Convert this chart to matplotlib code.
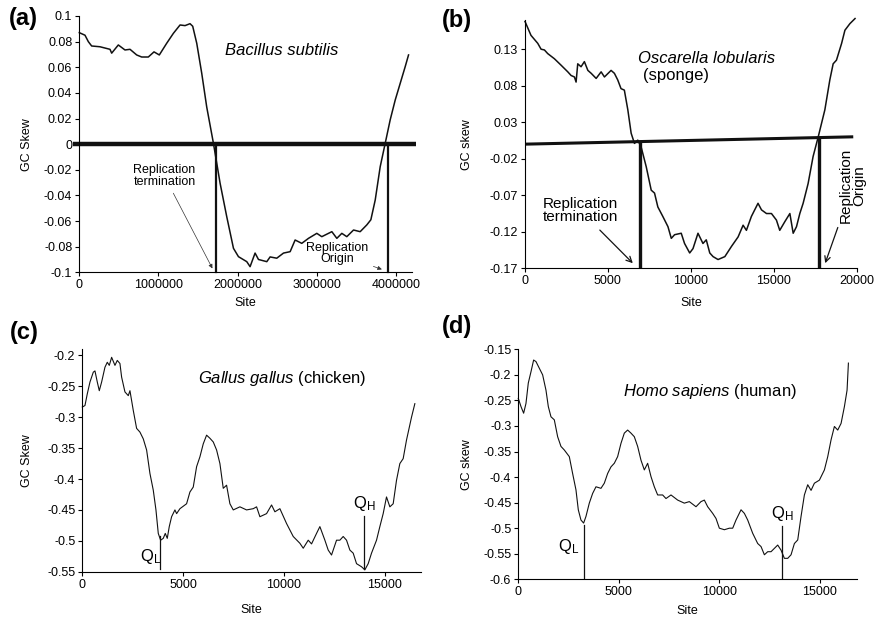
import numpy as np
import matplotlib
matplotlib.use("Agg")
import matplotlib.pyplot as plt

plt.rcParams['font.family'] = ['Liberation Sans', 'DejaVu Sans']
plt.rcParams['mathtext.fontset'] = 'custom'
plt.rcParams['mathtext.rm'] = 'Liberation Sans'
plt.rcParams['mathtext.it'] = 'Liberation Sans:italic'
plt.rcParams['font.size'] = 9

# (a) Bacillus subtilis
a_site = [0, 72e3, 114e3, 156e3, 261e3, 388e3, 409e3, 493e3, 577e3, 641e3, 725e3, 788e3,
          872e3, 944e3, 1011e3, 1104e3, 1189e3, 1273e3, 1336e3, 1399e3, 1433e3, 1484e3,
          1547e3, 1610e3, 1695e3, 1779e3, 1863e3, 1948e3, 2011e3, 2116e3, 2158e3, 2221e3,
          2264e3, 2369e3, 2411e3, 2495e3, 2580e3, 2664e3, 2727e3, 2811e3, 2896e3, 3001e3,
          3064e3, 3191e3, 3254e3, 3317e3, 3380e3, 3465e3, 3549e3, 3633e3, 3684e3, 3739e3,
          3802e3, 3865e3, 3928e3, 3992e3, 4055e3, 4118e3, 4160e3]
a_skew = [0.087, 0.085, 0.080, 0.0766, 0.076, 0.074, 0.071, 0.0774, 0.0735, 0.074, 0.0696,
          0.068, 0.068, 0.072, 0.0696, 0.0787, 0.0865, 0.093, 0.0925, 0.094, 0.092, 0.0787,
          0.0553, 0.029, 0.0006, -0.0305, -0.0566, -0.0813, -0.0878, -0.0917, -0.0956, -0.085,
          -0.090, -0.0917, -0.088, -0.089, -0.085, -0.0839, -0.0748, -0.0774, -0.0735, -0.0696,
          -0.0722, -0.0683, -0.0735, -0.0696, -0.0722, -0.067, -0.0683, -0.063, -0.059, -0.0436,
          -0.0176, 0.0006, 0.0189, 0.0345, 0.0475, 0.0605, 0.0696]
a_marks = [1728e3, 3899e3]

# (b) Oscarella lobularis (site in thousands)
b_site = [0, 0.36, 0.77, 0.97, 1.17, 1.37, 1.77, 2.18, 2.58, 2.78, 2.98, 3.08, 3.18, 3.38,
          3.58, 3.79, 3.99, 4.29, 4.59, 4.79, 5.19, 5.39, 5.59, 5.79, 5.99, 6.20, 6.40,
          6.60, 6.80, 7.00, 7.31, 7.61, 7.81, 8.01, 8.31, 8.62, 8.82, 9.02, 9.42, 9.62,
          9.93, 10.13, 10.43, 10.73, 10.93, 11.14, 11.34, 11.64, 12.05, 12.45, 12.85,
          13.15, 13.35, 13.65, 14.05, 14.26, 14.56, 14.86, 15.16, 15.36, 15.67, 15.97,
          16.17, 16.37, 16.57, 16.77, 17.07, 17.37, 17.68, 18.08, 18.38, 18.58, 18.78,
          19.09, 19.29, 19.59, 19.90]
b_skew = [0.168, 0.149, 0.138, 0.130, 0.129, 0.124, 0.117, 0.108, 0.099, 0.094, 0.092, 0.085,
          0.110, 0.106, 0.113, 0.101, 0.097, 0.090, 0.099, 0.092, 0.101, 0.097, 0.088, 0.076,
          0.074, 0.047, 0.015, 0.001, 0.0055, -0.0036, -0.031, -0.063, -0.067, -0.086, -0.099,
          -0.113, -0.129, -0.124, -0.122, -0.136, -0.149, -0.143, -0.122, -0.136, -0.131,
          -0.149, -0.154, -0.158, -0.154, -0.140, -0.127, -0.111, -0.118, -0.099, -0.081,
          -0.090, -0.095, -0.095, -0.104, -0.118, -0.106, -0.095, -0.122, -0.113, -0.095,
          -0.081, -0.054, -0.017, 0.010, 0.047, 0.088, 0.110, 0.115, 0.138, 0.156, 0.165, 0.172]
b_line_x = [0, 19700]
b_line_y = [0.0, 0.010]
b_marks = [6930, 17740]

# (c) Gallus gallus
c_site = [0, 132, 248, 380, 545, 628, 743, 842, 958, 1123,
          1239, 1338, 1454, 1619, 1734, 1866, 1949, 2114, 2279, 2362,
          2527, 2692, 2857, 3023, 3188, 3353, 3518, 3651, 3766, 3882,
          4014, 4113, 4212, 4311, 4427, 4592, 4675, 4840, 5170, 5335,
          5500, 5666, 5831, 5996, 6161, 6326, 6492, 6657, 6822, 6987,
          7152, 7317, 7483, 7813, 8143, 8474, 8639, 8804, 9134, 9382,
          9547, 9795, 10125, 10456, 10786, 10952, 11199, 11364, 11612, 11777,
          12025, 12190, 12355, 12603, 12768, 12933, 13098, 13264, 13429, 13594,
          13842, 14007, 14172, 14337, 14585, 14750, 14915, 15080, 15246, 15411,
          15576, 15741, 15906, 16071, 16319, 16485]
c_skew = [-0.2835, -0.281, -0.262, -0.243, -0.227, -0.225, -0.243, -0.257, -0.243, -0.219,
          -0.211, -0.216, -0.203, -0.216, -0.208, -0.213, -0.235, -0.259, -0.265, -0.257,
          -0.289, -0.318, -0.324, -0.335, -0.353, -0.391, -0.418, -0.450, -0.488, -0.499,
          -0.496, -0.488, -0.496, -0.477, -0.461, -0.450, -0.456, -0.448, -0.440, -0.421,
          -0.413, -0.380, -0.364, -0.343, -0.329, -0.334, -0.340, -0.353, -0.375, -0.415,
          -0.410, -0.440, -0.450, -0.445, -0.450, -0.448, -0.445, -0.461, -0.456, -0.442,
          -0.453, -0.448, -0.472, -0.493, -0.504, -0.512, -0.499, -0.505, -0.488, -0.477,
          -0.499, -0.515, -0.523, -0.499, -0.499, -0.493, -0.499, -0.515, -0.520, -0.537,
          -0.542, -0.547, -0.537, -0.520, -0.499, -0.477, -0.456, -0.429, -0.445, -0.440,
          -0.402, -0.375, -0.367, -0.337, -0.300, -0.278]
c_marks = [3832, 13975]
c_mark_top = [-0.493, -0.460]

# (d) Homo sapiens
d_site = [0, 133, 265, 381, 497, 630, 762, 878, 1044, 1210,
          1376, 1492, 1624, 1790, 1956, 2121, 2287, 2536, 2701, 2867,
          2983, 3115, 3248, 3364, 3530, 3696, 3862, 4110, 4276, 4442,
          4608, 4773, 4939, 5105, 5271, 5437, 5602, 5768, 5934, 6100,
          6266, 6431, 6597, 6763, 6929, 7177, 7343, 7592, 7923, 8255,
          8503, 8835, 9084, 9250, 9416, 9665, 9830, 9996, 10245, 10494,
          10660, 10825, 11074, 11240, 11405, 11654, 11903, 12069, 12235, 12401,
          12566, 12898, 13064, 13230, 13395, 13561, 13727, 13893, 14058, 14224,
          14390, 14556, 14721, 14970, 15219, 15385, 15551, 15716, 15882, 16048,
          16214, 16346, 16413]
d_skew = [-0.246, -0.262, -0.275, -0.256, -0.216, -0.194, -0.171, -0.174, -0.187, -0.200,
          -0.230, -0.262, -0.282, -0.288, -0.321, -0.340, -0.347, -0.360, -0.393, -0.425,
          -0.464, -0.484, -0.490, -0.477, -0.451, -0.432, -0.419, -0.422, -0.412, -0.393,
          -0.380, -0.373, -0.360, -0.334, -0.314, -0.308, -0.314, -0.321, -0.340, -0.367,
          -0.386, -0.373, -0.399, -0.419, -0.435, -0.435, -0.442, -0.435, -0.445, -0.451,
          -0.448, -0.458, -0.448, -0.445, -0.458, -0.471, -0.481, -0.500, -0.503, -0.500,
          -0.500, -0.484, -0.464, -0.471, -0.484, -0.510, -0.530, -0.536, -0.552, -0.546,
          -0.546, -0.533, -0.543, -0.559, -0.559, -0.552, -0.530, -0.523, -0.477, -0.435,
          -0.415, -0.426, -0.412, -0.406, -0.386, -0.360, -0.327, -0.301, -0.308, -0.295,
          -0.262, -0.230, -0.177]
d_marks = [3248, 13109]
d_mark_top = [-0.493, -0.496]

W, H = 882, 619
fig = plt.figure(figsize=(W / 100, H / 100), dpi=100)


def px_axes(l, t, r, b):
    return fig.add_axes([l / W, 1 - b / H, (r - l) / W, (b - t) / H])


def style(ax, xlab, ylab, l, t, r, b, ylab_x, xlab_y):
    for s in ['top', 'right']:
        ax.spines[s].set_visible(False)
    ax.tick_params(direction='out', length=3, width=0.8, labelsize=9, pad=2)
    ax.set_xlabel(xlab, fontsize=9)
    ax.set_ylabel(ylab, fontsize=9)
    # label centres given in figure pixels
    ax.yaxis.set_label_coords((ylab_x + 6 - l) / (r - l), 0.5)
    ax.xaxis.set_label_coords(0.5, -(xlab_y - 6 - b) / (b - t))


ax_a = px_axes(79.3, 16, 411.7, 272.3)
ax_b = px_axes(525, 20, 856.7, 268.3)
ax_c = px_axes(82.3, 349.3, 420.7, 571.7)
ax_d = px_axes(518.3, 349.3, 857, 579.3)

# (a)
ax = ax_a
ax.plot(a_site, a_skew, color='#111111', lw=1.1, clip_on=False)
ax.plot([-80000, 4250000], [0, 0], color='#111111', lw=3.2, clip_on=False, solid_capstyle='butt')
for m in a_marks:
    ax.plot([m, m], [0, -0.1], color='#111111', lw=1.6, clip_on=False)
ax.set_xlim(0, 4200000)
ax.set_ylim(-0.1, 0.1)
ax.set_xticks([0, 1000000, 2000000, 3000000, 4000000])
ax.set_xticklabels(['0', '1000000', '2000000', '3000000', '4000000'])
ax.set_yticks(np.round(np.arange(-0.1, 0.101, 0.02), 2))
ax.set_yticklabels(['-0.1', '-0.08', '-0.06', '-0.04', '-0.02', '0', '0.02', '0.04', '0.06', '0.08', '0.1'])
style(ax, 'Site', 'GC Skew', 79.3, 16, 411.7, 272.3, 27, 303)
ax.text(2560000, 0.073, 'Bacillus subtilis', style='italic', fontsize=12, ha='center', va='center')
ax.annotate('Replication\ntermination', xy=(1682000, -0.097), xytext=(683000, -0.025),
            fontsize=9, ha='left', va='center', linespacing=0.95,
            arrowprops=dict(arrowstyle='-|>', lw=0.5, color='#333333', mutation_scale=6,
                            shrinkA=2, shrinkB=0))
ax.annotate('Replication\nOrigin', xy=(3823000, -0.0977), xytext=(3254000, -0.0855),
            fontsize=9, ha='center', va='center', linespacing=0.95,
            arrowprops=dict(arrowstyle='-|>', lw=0.5, color='#333333', mutation_scale=6,
                            shrinkA=2, shrinkB=0))

# (b)
ax = ax_b
ax.plot(np.array(b_site) * 1000, b_skew, color='#111111', lw=1.1, clip_on=False)
ax.plot(b_line_x, b_line_y, color='#111111', lw=2.2)
for m in b_marks:
    yt = np.interp(m, b_line_x, b_line_y)
    ax.plot([m, m], [yt, -0.17], color='#111111', lw=2.4, clip_on=False, solid_capstyle='butt')
ax.set_xlim(0, 20000)
ax.set_ylim(-0.17, 0.17)
ax.set_xticks([0, 5000, 10000, 15000, 20000])
ax.set_yticks([-0.17, -0.12, -0.07, -0.02, 0.03, 0.08, 0.13])
ax.set_yticklabels(['-0.17', '-0.12', '-0.07', '-0.02', '0.03', '0.08', '0.13'])
style(ax, 'Site', 'GC skew', 525, 20, 856.7, 268.3, 467, 303)
ax.text(6800, 0.117, 'Oscarella lobularis', style='italic', fontsize=12, ha='left', va='center')
ax.text(7100, 0.094, '(sponge)', fontsize=12, ha='left', va='center')
ax.annotate('Replication\ntermination', xy=(6500, -0.163), xytext=(1070, -0.091),
            fontsize=11, ha='left', va='center', linespacing=0.95,
            arrowprops=dict(arrowstyle='->', lw=0.9, color='#111111', mutation_scale=10,
                            shrinkA=3, shrinkB=0))
ax.annotate('Replication\nOrigin', xy=(18100, -0.163), xytext=(19750, -0.057),
            fontsize=11, ha='center', va='center', rotation=90, linespacing=0.95,
            arrowprops=dict(arrowstyle='->', lw=0.9, color='#111111', mutation_scale=10,
                            shrinkA=1, shrinkB=0))

# (c)
ax = ax_c
ax.plot(c_site, c_skew, color='#111111', lw=0.8, clip_on=False)
for m, t in zip(c_marks, c_mark_top):
    ax.plot([m, m], [t, -0.546], color='#111111', lw=0.9)
ax.set_xlim(0, 16775)
ax.set_ylim(-0.55, -0.19)
ax.set_xticks([0, 5000, 10000, 15000])
ax.set_yticks([-0.55, -0.5, -0.45, -0.4, -0.35, -0.3, -0.25, -0.2])
ax.set_yticklabels(['-0.55', '-0.5', '-0.45', '-0.4', '-0.35', '-0.3', '-0.25', '-0.2'])
style(ax, 'Site', 'GC Skew', 82.3, 349.3, 420.7, 571.7, 27, 610)
ax.text(5750, -0.238, r'$\it{Gallus\ gallus}$ (chicken)', fontsize=12, ha='left', va='center')
ax.text(2850, -0.526, r'Q$_\mathrm{L}$', fontsize=12, ha='left', va='center')
ax.text(13400, -0.44, r'Q$_\mathrm{H}$', fontsize=12, ha='left', va='center')

# (d)
ax = ax_d
ax.plot(d_site, d_skew, color='#111111', lw=0.8, clip_on=False)
for m, t in zip(d_marks, d_mark_top):
    ax.plot([m, m], [t, -0.6], color='#111111', lw=0.9)
ax.set_xlim(0, 16840)
ax.set_ylim(-0.6, -0.15)
ax.set_xticks([0, 5000, 10000, 15000])
ax.set_yticks([-0.6, -0.55, -0.5, -0.45, -0.4, -0.35, -0.3, -0.25, -0.2, -0.15])
ax.set_yticklabels(['-0.6', '-0.55', '-0.5', '-0.45', '-0.4', '-0.35', '-0.3', '-0.25', '-0.2', '-0.15'])
style(ax, 'Site', 'GC skew', 518.3, 349.3, 857, 579.3, 467, 611)
ax.text(5200, -0.233, r'$\it{Homo\ sapiens}$ (human)', fontsize=12, ha='left', va='center')
ax.text(1960, -0.535, r'Q$_\mathrm{L}$', fontsize=12, ha='left', va='center')
ax.text(12560, -0.472, r'Q$_\mathrm{H}$', fontsize=12, ha='left', va='center')

# panel letters
for lbl, x, y in [('(a)', 23, 18), ('(b)', 457, 20), ('(c)', 24, 332), ('(d)', 457, 327)]:
    fig.text(x / W, 1 - y / H, lbl, fontsize=17, fontweight='bold', ha='center', va='center')

fig.savefig('out.png', dpi=100)
